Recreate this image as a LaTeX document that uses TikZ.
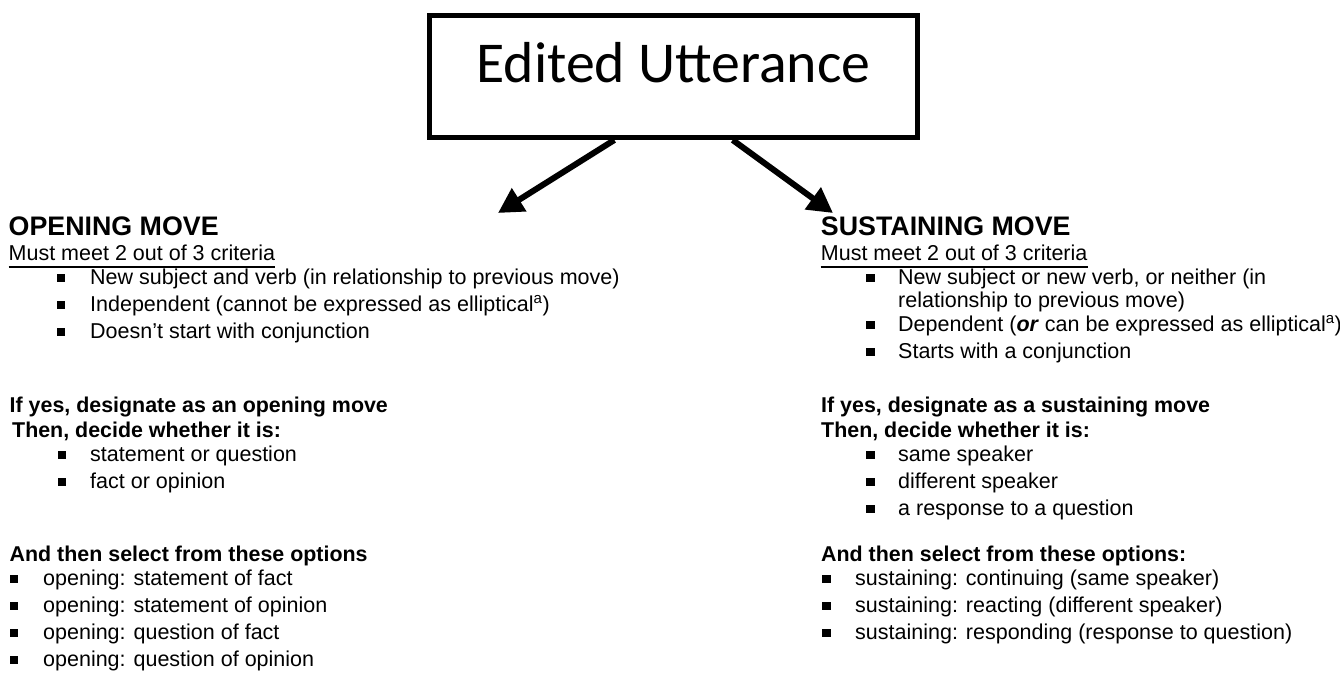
\documentclass[tikz,border=0pt]{standalone}
\usepackage{fontspec}
\setmainfont{Liberation Sans}
\newfontfamily\titlefont{Carlito}
\usetikzlibrary{arrows.meta, calc}

\begin{document}
\begin{tikzpicture}[
        x=1pt, y=-1pt,
        box/.style={draw=black, line width=5pt, inner sep=0pt, minimum width=488pt, text height=67pt, text depth=55.5pt, font=\titlefont\fontsize{57.8}{60}\selectfont},
        arr/.style={line width=6pt, -{Triangle[length=25pt, width=26pt]}},
        head/.style={anchor=base west, inner sep=0pt, font=\bfseries\fontsize{26.8}{30}\selectfont},
        sub/.style={anchor=base west, inner sep=0pt, font=\bfseries\fontsize{21.4}{27}\selectfont},
        txt/.style={anchor=base west, inner sep=0pt, font=\fontsize{21.5}{27}\selectfont},
        bul/.style={fill=black, inner sep=0pt, minimum size=8.5pt},
        uline/.style={line width=1.8pt},
    ]
    \useasboundingbox (0,0) rectangle (1340,673);
    \node[box] (utt) at (673.5,76.25) {Edited Utterance};
    \coordinate (optip) at (498,213);
    \coordinate (sutip) at (833,213);
    \draw[arr] ($(utt.south west)!0.38!(utt.south east)$) -- (optip);
    \draw[arr] ($(utt.south west)!0.62!(utt.south east)$) -- (sutip);

    % opening move
    \node[head] (ophead) at (8.5,235) {OPENING MOVE};
    \node[txt] (opmust) at (8.5,260) {Must meet 2 out of 3 criteria};
    \draw[uline] ([yshift=-6.7pt]opmust.base west) -- ([yshift=-6.7pt]opmust.base east);
    \foreach \t [count=\i] in {New subject and verb (in relationship to previous move), {Independent (cannot be expressed as elliptical\textsuperscript{a})}, Doesn’t start with conjunction} {
        \node[bul] (opcb\i) at (61,{278.2+27*(\i-1)}) {};
        \node[txt] (opct\i) at (90,{284+27*(\i-1)}) {\t};
    }
    \node[sub] (opyes) at (9.5,412) {If yes, designate as an opening move};
    \node[sub] (opthen) at (12,437) {Then, decide whether it is:};
    \foreach \t [count=\i] in {statement or question, fact or opinion} {
        \node[bul] (opdb\i) at (62,{455.2+27*(\i-1)}) {};
        \node[txt] (opdt\i) at (90,{461+27*(\i-1)}) {\t};
    }
    \node[sub] (opsel) at (9.5,561) {And then select from these options};
    \foreach \t [count=\i] in {opening: statement of fact, opening: statement of opinion, opening: question of fact, opening: question of opinion} {
        \node[bul] (opob\i) at (14,{579.2+27*(\i-1)}) {};
        \node[txt] (opot\i) at (43,{585+27*(\i-1)}) {\t};
    }

    % sustaining move
    \node[head] (suhead) at (820.7,235) {SUSTAINING MOVE};
    \node[txt] (sumust) at (820.7,260) {Must meet 2 out of 3 criteria};
    \draw[uline] ([yshift=-6.7pt]sumust.base west) -- ([yshift=-6.7pt]sumust.base east);
    \node[bul] (sucb1) at (870.5,278.2) {};
    \node[txt] (suct1) at (898,284) {New subject or new verb, or neither (in};
    \node[txt] (suct1b) at (898,307) {relationship to previous move)};
    \node[bul] (sucb2) at (870.5,325.2) {};
    \node[txt] (suct2) at (898,331) {Dependent (\textbf{\textit{or}} can be expressed as elliptical\textsuperscript{a})};
    \node[bul] (sucb3) at (870.5,352.2) {};
    \node[txt] (suct3) at (898,358) {Starts with a conjunction};
    \node[sub] (suyes) at (821,412) {If yes, designate as a sustaining move};
    \node[sub] (suthen) at (821,437) {Then, decide whether it is:};
    \foreach \t [count=\i] in {same speaker, different speaker, a response to a question} {
        \node[bul] (sudb\i) at (870.5,{455.2+27*(\i-1)}) {};
        \node[txt] (sudt\i) at (898,{461+27*(\i-1)}) {\t};
    }
    \node[sub] (susel) at (821,561) {And then select from these options:};
    \foreach \t [count=\i] in {sustaining: continuing (same speaker), sustaining: reacting (different speaker), sustaining: responding (response to question)} {
        \node[bul] (suob\i) at (826.5,{579.2+27*(\i-1)}) {};
        \node[txt] (suot\i) at (855,{585+27*(\i-1)}) {\t};
    }
\end{tikzpicture}
\end{document}
